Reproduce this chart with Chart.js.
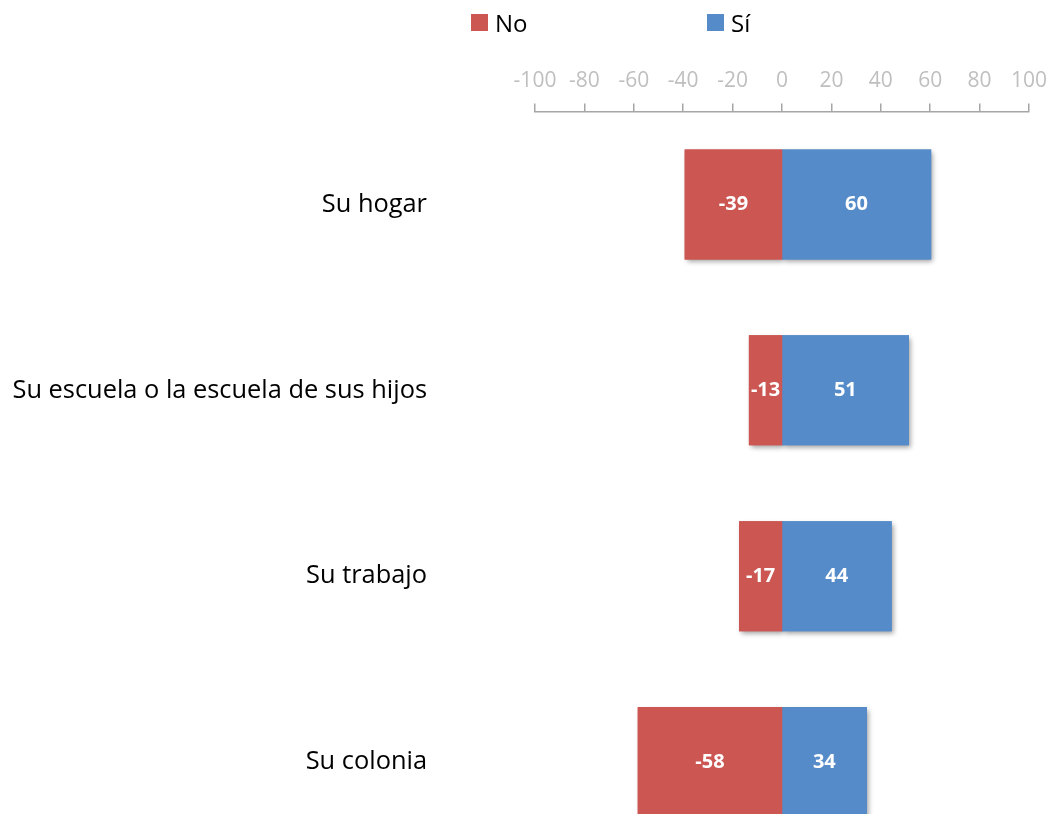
<!DOCTYPE html>
<html>
<head>
<meta charset="utf-8">
<script src="https://cdn.jsdelivr.net/npm/chart.js@4.4.1/dist/chart.umd.min.js"></script>
<style>
  html, body { margin: 0; padding: 0; background: #fff; overflow: hidden; width: 1050px; height: 814px; }
  #wrap { position: relative; width: 1050px; height: 855px; }
  #legend { position: absolute; top: 0; left: 0; width: 1050px; height: 44px; font-family: "Open Sans", sans-serif; font-size: 24px; color: #000; }
  .item { position: absolute; top: 4px; display: flex; align-items: center; height: 36px; }
  .box { width: 17px; height: 17px; margin-right: 7px; }
</style>
</head>
<body>
<div id="wrap">
  <canvas id="c" width="1050" height="855"></canvas>
  <div id="legend"></div>
</div>
<script>
const categories = ["Su hogar", "Su escuela o la escuela de sus hijos", "Su trabajo", "Su colonia"];
const seriesNames = ["No", "Sí"];
const noValues = [-39, -13, -17, -58];
const siValues = [60, 51, 44, 34];
const xTicks = [-100, -80, -60, -40, -20, 0, 20, 40, 60, 80, 100];
const colors = ["#CB5652", "#568BC9"];

const FONT = "'Open Sans', sans-serif";

// HTML legend built from the series names and colours
const legendEl = document.getElementById('legend');
const legendLeft = [471, 707];
seriesNames.forEach((name, i) => {
  const it = document.createElement('div');
  it.className = 'item';
  it.style.left = legendLeft[i] + 'px';
  const b = document.createElement('span');
  b.className = 'box';
  b.style.background = colors[i];
  const t = document.createElement('span');
  t.textContent = name;
  it.appendChild(b); it.appendChild(t);
  legendEl.appendChild(it);
});

// Shadow pass: draws the bar elements once with a drop shadow, then the
// normal (shadowless) draw covers them so no shadow falls between segments.
const shadowPlugin = {
  id: 'barShadow',
  beforeDatasetsDraw(chart) {
    const ctx = chart.ctx;
    ctx.save();
    ctx.shadowColor = 'rgba(0,0,0,0.38)';
    ctx.shadowBlur = 5;
    ctx.shadowOffsetX = 2;
    ctx.shadowOffsetY = 3;
    chart.data.datasets.forEach((ds, di) => {
      chart.getDatasetMeta(di).data.forEach(el => el.draw(ctx));
    });
    ctx.restore();
  }
};

const labelPlugin = {
  id: 'valueLabels',
  afterDatasetsDraw(chart) {
    const ctx = chart.ctx;
    ctx.save();
    ctx.fillStyle = '#ffffff';
    ctx.font = "bold 20px " + FONT;
    ctx.textAlign = 'center';
    ctx.textBaseline = 'middle';
    chart.data.datasets.forEach((ds, di) => {
      const meta = chart.getDatasetMeta(di);
      meta.data.forEach((el, i) => {
        const p = el.getCenterPoint();
        ctx.fillText(String(ds.data[i]), p.x, p.y);
      });
    });
    ctx.restore();
  }
};

new Chart(document.getElementById('c'), {
  type: 'bar',
  data: {
    labels: categories,
    datasets: [
      { label: seriesNames[0], data: noValues, backgroundColor: colors[0], borderWidth: 0 },
      { label: seriesNames[1], data: siValues, backgroundColor: colors[1], borderWidth: 0 }
    ]
  },
  options: {
    indexAxis: 'y',
    responsive: false,
    animation: false,
    maintainAspectRatio: false,
    layout: { padding: { left: 0, right: 21, top: 0, bottom: 0 } },
    datasets: { bar: { categoryPercentage: 1.0, barPercentage: 0.581, inflateAmount: 1 } },
    plugins: {
      legend: { display: false },
      tooltip: { enabled: false }
    },
    scales: {
      x: {
        type: 'linear',
        position: 'top',
        stacked: true,
        min: -100,
        max: 100,
        afterBuildTicks(scale) { scale.ticks = xTicks.map(v => ({ value: v })); },
        afterFit(scale) { scale.height = 111.5; scale.paddingLeft = 0; scale.paddingRight = 0; },
        ticks: { color: '#BFBFBF', font: { family: FONT, size: 21 }, padding: 10, maxRotation: 0, autoSkip: false },
        grid: { display: true, drawOnChartArea: false, drawTicks: true, tickLength: 8, color: '#A6A6A6', lineWidth: 1.5 },
        border: { display: true, color: '#A6A6A6', width: 1.5 }
      },
      y: {
        stacked: true,
        offset: true,
        afterFit(scale) { scale.width = 535; scale.paddingTop = 0; scale.paddingBottom = 0; },
        ticks: { color: '#000000', font: { family: FONT, size: 25.4 }, padding: 108 },
        grid: { display: false, drawTicks: false },
        border: { display: false }
      }
    }
  },
  plugins: [shadowPlugin, labelPlugin]
});
</script>
</body>
</html>
